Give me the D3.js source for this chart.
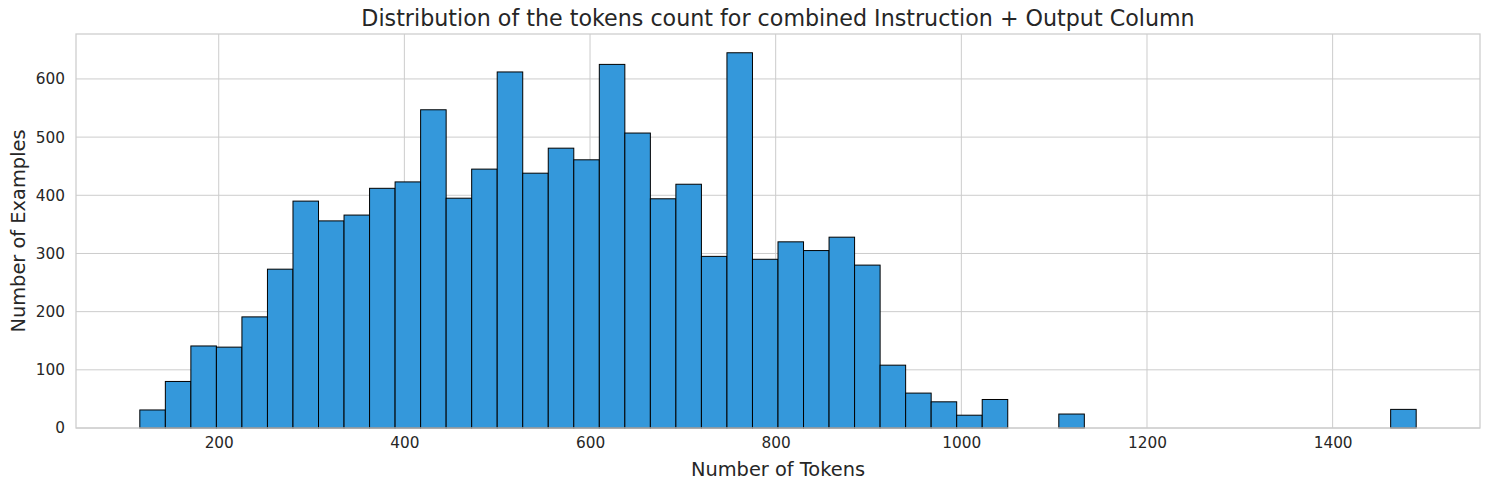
<!DOCTYPE html>
<html>
<head>
<meta charset="utf-8">
<script src="https://cdn.jsdelivr.net/npm/d3@7/dist/d3.min.js"></script>
<style>
  html, body { margin: 0; padding: 0; background: #fff; }
  svg { display: block; }
  text { font-family: "DejaVu Sans", sans-serif; fill: #262626; }
</style>
</head>
<body>
<svg id="chart" width="1489" height="490"></svg>
<script>
// ---- data ----
const binMin = 115;
const binMax = 1490;
const counts = [31, 80, 141, 139, 191, 273, 390, 356, 366, 412,
                423, 547, 395, 445, 612, 438, 481, 461, 625, 507,
                394, 419, 295, 645, 290, 320, 305, 328, 280, 108,
                60, 45, 22, 49, 0, 0, 24, 0, 0, 0,
                0, 0, 0, 0, 0, 0, 0, 0, 0, 32];
const xTicks = [200, 400, 600, 800, 1000, 1200, 1400];
const yTicks = [0, 100, 200, 300, 400, 500, 600];
const titleText = "Distribution of the tokens count for combined Instruction + Output Column";
const xLabel = "Number of Tokens";
const yLabel = "Number of Examples";

// ---- layout ----
const svg = d3.select("#chart");
const L = 76, R = 1480, T = 34, B = 428;

const nBins = counts.length;
const binW = (binMax - binMin) / nBins;
const bins = counts.map((c, i) => ({ x0: binMin + i * binW, x1: binMin + (i + 1) * binW, c }));

const pad = (binMax - binMin) * 0.05;
const x = d3.scaleLinear().domain([binMin - pad, binMax + pad]).range([L, R]);
const y = d3.scaleLinear().domain([0, d3.max(counts) * 1.05]).range([B, T]);

// grid
const g = svg.append("g");
g.selectAll("line.gx").data(xTicks).enter().append("line")
  .attr("x1", d => x(d)).attr("x2", d => x(d)).attr("y1", T).attr("y2", B)
  .attr("stroke", "#cccccc").attr("stroke-width", 1);
g.selectAll("line.gy").data(yTicks).enter().append("line")
  .attr("x1", L).attr("x2", R).attr("y1", d => y(d)).attr("y2", d => y(d))
  .attr("stroke", "#cccccc").attr("stroke-width", 1);

// bars
svg.append("g").selectAll("rect").data(bins.filter(b => b.c > 0)).enter().append("rect")
  .attr("x", d => x(d.x0))
  .attr("width", d => x(d.x1) - x(d.x0))
  .attr("y", d => y(d.c))
  .attr("height", d => y(0) - y(d.c))
  .attr("fill", "#3498db")
  .attr("stroke", "#000")
  .attr("stroke-width", 1);

// frame
svg.append("rect").attr("x", L).attr("y", T).attr("width", R - L).attr("height", B - T)
  .attr("fill", "none").attr("stroke", "#cccccc").attr("stroke-width", 1.25);

// axes via d3
const xAxis = d3.axisBottom(x).tickValues(xTicks).tickSize(0).tickPadding(9).tickFormat(d3.format("d"));
const yAxis = d3.axisLeft(y).tickValues(yTicks).tickSize(0).tickPadding(11).tickFormat(d3.format("d"));
const gx = svg.append("g").attr("transform", `translate(0,${B})`).call(xAxis);
const gy = svg.append("g").attr("transform", `translate(${L},0)`).call(yAxis);
[gx, gy].forEach(a => {
  a.select(".domain").remove();
  a.selectAll("text").style("font-family", "DejaVu Sans, sans-serif").style("font-size", "15.3px").attr("fill", "#262626");
});

// labels
svg.append("text").attr("x", (L + R) / 2).attr("y", 476).attr("text-anchor", "middle")
  .style("font-size", "19.4px").text(xLabel);
svg.append("text").attr("transform", `translate(25,${(T + B) / 2}) rotate(-90)`).attr("text-anchor", "middle")
  .style("font-size", "19.4px").text(yLabel);
svg.append("text").attr("x", (L + R) / 2).attr("y", 26).attr("text-anchor", "middle")
  .style("font-size", "22.2px").text(titleText);
</script>
</body>
</html>
